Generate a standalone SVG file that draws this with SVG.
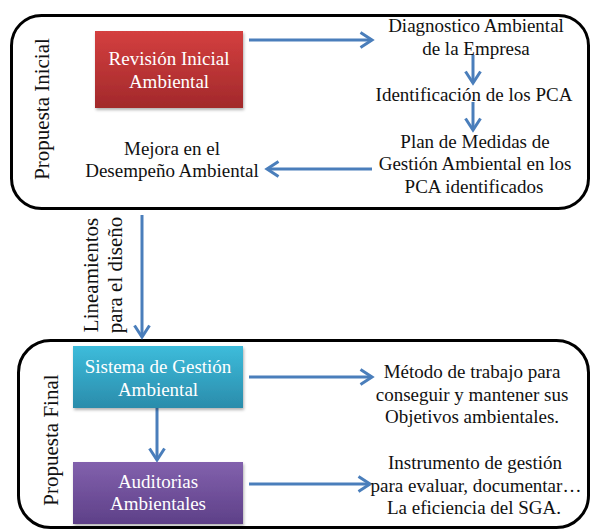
<svg xmlns="http://www.w3.org/2000/svg" width="592" height="529" viewBox="0 0 592 529">
<style>
.frame{fill:none;stroke:#000;stroke-width:3}
text{font-size:19px;fill:#111;text-anchor:middle}
.w{fill:#fff}
.rot{font-size:21px}
.con{fill:none;stroke:#4a7ebb;stroke-width:3;marker-end:url(#ah)}
</style>
<defs>
<marker id="ah" markerUnits="userSpaceOnUse" markerWidth="16" markerHeight="18" viewBox="0 0 16 18" refX="13" refY="9" orient="auto">
<path d="M1.5,1.5 L13,9 L1.5,16.5" fill="none" stroke="#4a7ebb" stroke-width="3"/>
</marker>
<linearGradient id="gRed" x1="0" y1="0" x2="0" y2="1"><stop offset="0" stop-color="#d43f3f"/><stop offset="1" stop-color="#a2292b"/></linearGradient>
<linearGradient id="gTeal" x1="0" y1="0" x2="0" y2="1"><stop offset="0" stop-color="#3dbcdb"/><stop offset="1" stop-color="#2a8cab"/></linearGradient>
<linearGradient id="gPur" x1="0" y1="0" x2="0" y2="1"><stop offset="0" stop-color="#8261ad"/><stop offset="1" stop-color="#5e4088"/></linearGradient>
<filter id="sh" x="-10%" y="-10%" width="125%" height="130%"><feDropShadow dx="1" dy="2" stdDeviation="1.5" flood-color="#000" flood-opacity="0.3"/></filter>
</defs>
<g font-family="Liberation Serif, Times New Roman, Times, serif">
<g id="frame-inicial">
<rect class="frame" x="11.5" y="15.5" width="577" height="193" rx="30"/>
<text class="rot" transform="translate(49,109) rotate(-90)">Propuesta Inicial</text>
</g>
<g id="frame-final">
<rect class="frame" x="18.5" y="340.5" width="570" height="187" rx="32"/>
<text class="rot" transform="translate(58,440) rotate(-90)">Propuesta Final</text>
</g>

<g id="connectors">
<line class="con" x1="249" y1="40" x2="372" y2="40"/>
<line class="con" x1="473" y1="55" x2="473" y2="83"/>
<line class="con" x1="473" y1="102" x2="473" y2="130"/>
<line class="con" x1="372" y1="169" x2="267" y2="169"/>
<line class="con" x1="142" y1="215" x2="142" y2="337"/>
<line class="con" x1="249" y1="377" x2="372" y2="377"/>
<line class="con" x1="157" y1="408" x2="157" y2="460"/>
<line class="con" x1="249" y1="484" x2="370" y2="484"/>
</g>

<g id="revision">
<rect x="95" y="31" width="148" height="77" fill="url(#gRed)" filter="url(#sh)"/>
<text class="w" x="169" y="65">Revisión Inicial</text>
<text class="w" x="169" y="88">Ambiental</text>
</g>
<g id="diagnostico">
<text x="476" y="32">Diagnostico Ambiental</text>
<text x="476" y="55">de la Empresa</text>
</g>
<g id="identificacion">
<text x="474" y="101">Identificación de los PCA</text>
</g>
<g id="plan">
<text x="475" y="148">Plan de Medidas de</text>
<text x="475" y="170">Gestión Ambiental en los</text>
<text x="474" y="193">PCA  identificados</text>
</g>
<g id="mejora">
<text x="172" y="155">Mejora en el</text>
<text x="172" y="177">Desempeño Ambiental</text>
</g>
<g id="lineamientos">
<text class="rot" transform="translate(98,275) rotate(-90)">Lineamientos</text>
<text class="rot" transform="translate(122,275) rotate(-90)">para el diseño</text>
</g>
<g id="sistema">
<rect x="73" y="346" width="170" height="62" fill="url(#gTeal)" filter="url(#sh)"/>
<text class="w" x="158" y="373">Sistema de Gestión</text>
<text class="w" x="158" y="396">Ambiental</text>
</g>
<g id="auditorias">
<rect x="73" y="462" width="170" height="62" fill="url(#gPur)" filter="url(#sh)"/>
<text class="w" x="158" y="488">Auditorias</text>
<text class="w" x="158" y="510">Ambientales</text>
</g>
<g id="metodo">
<text x="472" y="378">Método de trabajo para</text>
<text x="472" y="401">conseguir y mantener sus</text>
<text x="472" y="423">Objetivos ambientales.</text>
</g>
<g id="instrumento">
<text x="475" y="469">Instrumento de gestión</text>
<text x="476" y="492">para evaluar, documentar…</text>
<text x="474" y="514">La eficiencia  del SGA.</text>
</g>
</g>
</svg>
